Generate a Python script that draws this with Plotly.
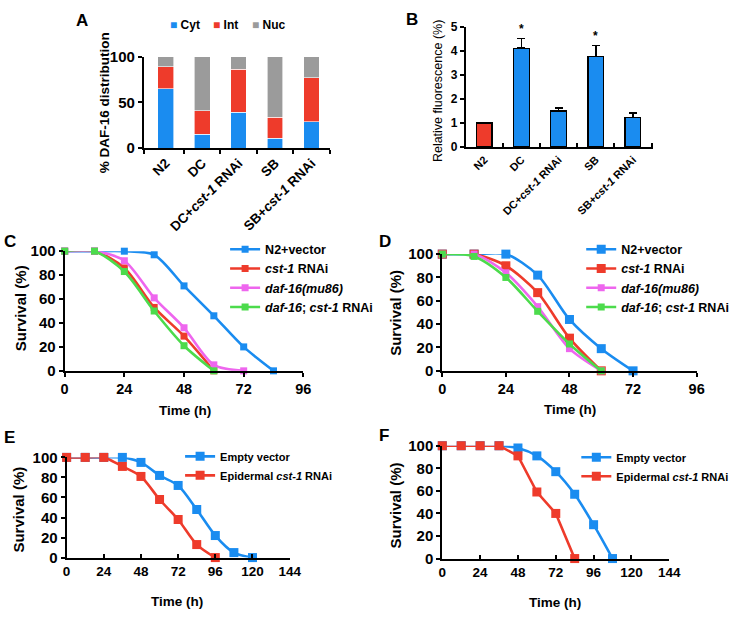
import plotly.graph_objects as go

# ---------------- DATA ----------------
# Panel A: DAF-16 distribution (%)
a_groups = ["N2", "DC", "DC+<i>cst-1</i> RNAi", "SB", "SB+<i>cst-1</i> RNAi"]
a_cyt = [65, 15, 39, 11, 29]
a_int = [24, 26, 47, 23, 48]
a_nuc = [11, 59, 14, 66, 23]
a_star = ["", "", "*", "", "*"]

# Panel B: relative fluorescence
b_groups = ["N2", "DC", "DC+<i>cst-1</i> RNAi", "SB", "SB+<i>cst-1</i> RNAi"]
b_vals = [1.0, 4.1, 1.5, 3.75, 1.22]
b_err = [0.0, 0.4, 0.12, 0.47, 0.2]
b_star = ["", "*", "", "*", ""]

# Panel C survival
c_t_n2 = [0, 12, 24, 36, 48, 60, 72, 84]
c_n2 = [100, 100, 100, 97, 71, 46, 20, 0]
c_t_cst = [0, 12, 24, 36, 48, 60]
c_cst = [100, 100, 86, 53, 29, 0]
c_t_daf = [0, 12, 24, 36, 48, 60, 72]
c_daf = [100, 100, 92, 61, 36, 5, 0]
c_t_dc = [0, 12, 24, 36, 48, 60]
c_dc = [100, 100, 83, 50, 21, 0]

# Panel D survival
d_t_n2 = [0, 12, 24, 36, 48, 60, 72]
d_n2 = [100, 100, 100, 82, 44, 19, 0]
d_t_cst = [0, 12, 24, 36, 48, 60]
d_cst = [100, 100, 90, 67, 28, 0]
d_t_daf = [0, 12, 24, 36, 48, 60]
d_daf = [100, 100, 84, 55, 19, 0]
d_t_dc = [0, 12, 24, 36, 48, 60]
d_dc = [100, 98, 80, 51, 23, 0]

# Panel E survival
e_t_ev = [0, 12, 24, 36, 48, 60, 72, 84, 96, 108, 120]
e_ev = [100, 100, 100, 100, 95, 82, 72, 48, 22, 5, 0]
e_t_ep = [0, 12, 24, 36, 48, 60, 72, 84, 96]
e_ep = [100, 100, 100, 91, 81, 58, 38, 13, 0]

# Panel F survival
f_t_ev = [0, 12, 24, 36, 48, 60, 72, 84, 96, 108]
f_ev = [100, 100, 100, 100, 98, 91, 77, 57, 30, 0]
f_t_ep = [0, 12, 24, 36, 48, 60, 72, 84]
f_ep = [100, 100, 100, 100, 91, 59, 40, 0]

# ---------------- STYLE ----------------
W, H = 738, 622
FONT = "Liberation Sans, Arial, Helvetica, sans-serif"
BLUE = "#1A8CF0"
RED = "#EE3B2B"
GREY = "#9B9B9B"
MAG = "#EE66EE"
GREEN = "#4CDB4C"


def px_x(x0, x1):
    return [x0 / W, x1 / W]


def px_y(top, bottom):
    return [1 - bottom / H, 1 - top / H]


fig = go.Figure()

# ---------- Panel A ----------
xa = list(range(len(a_groups)))
for name, vals, col in [("Cyt", a_cyt, BLUE), ("Int", a_int, RED), ("Nuc", a_nuc, GREY)]:
    fig.add_trace(go.Bar(x=xa, y=vals, name=name, marker=dict(color=col, line=dict(color="white", width=0.6)),
                         width=0.43, xaxis="x", yaxis="y", showlegend=False))

# ---------- Panel B ----------
xb = list(range(len(b_groups)))
fig.add_trace(go.Bar(x=xb, y=b_vals, marker=dict(color=[RED] + [BLUE] * 4, line=dict(color="black", width=1.3)),
                     width=0.42, xaxis="x2", yaxis="y2", showlegend=False,
                     error_y=dict(type="data", symmetric=False, array=b_err, arrayminus=[0] * 5,
                                  color="black", thickness=1.5, width=4)))


def line_trace(t, v, name, col, xax, yax, leg, msize=8, shape="spline"):
    return go.Scatter(x=t, y=v, name=name, mode="lines+markers", xaxis=xax, yaxis=yax, legend=leg,
                      line=dict(color=col, width=2.6, shape=shape, smoothing=0.8),
                      marker=dict(symbol="square", size=msize, color=col), cliponaxis=False)


# ---------- Panel C ----------
fig.add_trace(line_trace(c_t_n2, c_n2, "N2+vector", BLUE, "x3", "y3", "legend", 7))
fig.add_trace(line_trace(c_t_cst, c_cst, "<i>cst-1</i> RNAi", RED, "x3", "y3", "legend", 7))
fig.add_trace(line_trace(c_t_daf, c_daf, "<i>daf-16(mu86)</i>", MAG, "x3", "y3", "legend", 7))
fig.add_trace(line_trace(c_t_dc, c_dc, "<i>daf-16</i>; <i>cst-1</i> RNAi", GREEN, "x3", "y3", "legend", 7))

# ---------- Panel D ----------
fig.add_trace(line_trace(d_t_n2, d_n2, "N2+vector", BLUE, "x4", "y4", "legend2", 9))
fig.add_trace(line_trace(d_t_cst, d_cst, "<i>cst-1</i> RNAi", RED, "x4", "y4", "legend2", 9))
fig.add_trace(line_trace(d_t_daf, d_daf, "<i>daf-16(mu86)</i>", MAG, "x4", "y4", "legend2", 7))
fig.add_trace(line_trace(d_t_dc, d_dc, "<i>daf-16</i>; <i>cst-1</i> RNAi", GREEN, "x4", "y4", "legend2", 7))

# ---------- Panel E ----------
fig.add_trace(line_trace(e_t_ev, e_ev, "Empty vector", BLUE, "x5", "y5", "legend3", 9))
fig.add_trace(line_trace(e_t_ep, e_ep, "Epidermal <i>cst-1</i> RNAi", RED, "x5", "y5", "legend3", 9))

# ---------- Panel F ----------
fig.add_trace(line_trace(f_t_ev, f_ev, "Empty vector", BLUE, "x6", "y6", "legend4", 9, "spline"))
fig.add_trace(line_trace(f_t_ep, f_ep, "Epidermal <i>cst-1</i> RNAi", RED, "x6", "y6", "legend4", 9, "linear"))

# ---------------- AXES ----------------
base_ax = dict(showline=True, linecolor="black", linewidth=2, showgrid=False, zeroline=False,
               ticks="outside", tickcolor="black", tickwidth=2, ticklen=4, fixedrange=True)


def tf(size):
    return dict(family=FONT, size=size, color="black", weight="bold")


layout_axes = {}
# A
layout_axes["xaxis"] = dict(base_ax, domain=px_x(143, 333), anchor="y", range=[-0.6, 4.5],
                            tickmode="array", tickvals=xa, ticktext=a_groups, ticks="", tickangle=-45,
                            tickfont=tf(13.5),
                            minor=dict(tickmode="array", tickvals=[-0.6, 0.5, 1.5, 2.5, 3.5, 4.5],
                                       ticks="outside", ticklen=4, tickwidth=2, tickcolor="black"))
layout_axes["yaxis"] = dict(base_ax, domain=px_y(49, 143), anchor="x", range=[0, 100],
                            tickvals=[0, 50, 100], tickfont=tf(15))
# B
layout_axes["xaxis2"] = dict(base_ax, domain=px_x(472, 663), anchor="y2", range=[-0.5, 4.53],
                             tickmode="array", tickvals=xb, ticktext=b_groups, ticks="", tickangle=-45,
                             tickfont=tf(11),
                             minor=dict(tickmode="array", tickvals=[0.5, 1.5, 2.5, 3.5, 4.5],
                                        ticks="inside", ticklen=4, tickwidth=2, tickcolor="black"))
layout_axes["yaxis2"] = dict(base_ax, domain=px_y(18, 142), anchor="x2", range=[0, 5],
                             tickvals=[0, 1, 2, 3, 4, 5], tickfont=tf(12))
# C
layout_axes["xaxis3"] = dict(base_ax, domain=px_x(62, 306), anchor="y3", range=[0, 96],
                             tickvals=[0, 24, 48, 72, 96], tickfont=tf(14.5))
layout_axes["yaxis3"] = dict(base_ax, domain=px_y(249, 372), anchor="x3", range=[0, 100],
                             tickvals=[0, 20, 40, 60, 80, 100], tickfont=tf(15))
# D
layout_axes["xaxis4"] = dict(base_ax, domain=px_x(448, 708), anchor="y4", range=[0, 96],
                             tickvals=[0, 24, 48, 72, 96], tickfont=tf(14.5))
layout_axes["yaxis4"] = dict(base_ax, domain=px_y(252, 372), anchor="x4", range=[0, 100],
                             tickvals=[0, 20, 40, 60, 80, 100], tickfont=tf(15))
# E
layout_axes["xaxis5"] = dict(base_ax, domain=px_x(64, 292), anchor="y5", range=[0, 144], ticks="inside",
                             tickvals=[0, 24, 48, 72, 96, 120, 144], tickfont=tf(13.5))
layout_axes["yaxis5"] = dict(base_ax, domain=px_y(461, 564), anchor="x5", range=[0, 100],
                             tickvals=[0, 20, 40, 60, 80, 100], tickfont=tf(15))
# F
layout_axes["xaxis6"] = dict(base_ax, domain=px_x(448, 680), anchor="y6", range=[0, 144], ticks="inside",
                             tickvals=[0, 24, 48, 72, 96, 120, 144], tickfont=tf(13.5))
layout_axes["yaxis6"] = dict(base_ax, domain=px_y(449, 565), anchor="x6", range=[0, 100],
                             tickvals=[0, 20, 40, 60, 80, 100], tickfont=tf(15))

# ---------------- ANNOTATIONS ----------------
ann = []


def pa(x, y, text, size, bold=True, angle=0, xanchor="center", yanchor="middle", color="black"):
    ann.append(dict(x=x / W, y=1 - y / H, xref="paper", yref="paper", text=text, showarrow=False,
                    textangle=angle, xanchor=xanchor, yanchor=yanchor,
                    font=dict(family=FONT, size=size, color=color, weight="bold" if bold else "normal")))


# panel letters
pa(80, 12, "A", 17)
pa(417, 11, "B", 17)
pa(6, 239, "C", 17)
pa(389, 239, "D", 17)
pa(6, 441, "E", 17)
pa(388, 438, "F", 17)

# axis titles
pa(103, 96, "% DAF-16 distribution", 13.5, angle=-90)
pa(443, 84, "Relative fluorescence (%)", 12.5, bold=False, angle=-90)
pa(17, 308, "Survival (%)", 15, angle=-90)
pa(185, 413, "Time (h)", 13.5)
pa(400, 312, "Survival (%)", 15, angle=-90)
pa(579, 412, "Time (h)", 13.5)
pa(15, 515, "Survival (%)", 15, angle=-90)
pa(177, 609, "Time (h)", 13.5)
pa(400, 510, "Survival (%)", 15, angle=-90)
pa(563, 610, "Time (h)", 13.5)

# A legend (square swatches)
for xs, name, col in [(168, "Cyt", BLUE), (212, "Int", RED), (251, "Nuc", GREY)]:
    ann.append(dict(x=xs / W, y=1 - 16 / H, xref="paper", yref="paper", showarrow=False,
                    xanchor="left", yanchor="middle",
                    text=f"<span style='color:{col}'>■</span> {name}",
                    font=dict(family=FONT, size=12, color="black", weight="bold")))

# asterisks
for i, s in enumerate(a_star):
    if s:
        ann.append(dict(x=xa[i], y=118, xref="x", yref="y", text=s, showarrow=False,
                        font=dict(family=FONT, size=13, color="black", weight="bold")))
for i, s in enumerate(b_star):
    if s:
        ann.append(dict(x=xb[i], y=b_vals[i] + b_err[i] + 0.38, xref="x2", yref="y2", text=s, showarrow=False,
                        font=dict(family=FONT, size=12, color="black", weight="bold")))


def legend_cfg(xpx, ytop, size):
    return dict(x=xpx / W, y=1 - ytop / H, xanchor="left", yanchor="top", bgcolor="rgba(0,0,0,0)",
                font=dict(family=FONT, size=size, color="black", weight="bold"), itemwidth=30,
                tracegroupgap=0, traceorder="normal")


fig.update_layout(
    width=W, height=H, margin=dict(l=0, r=0, t=0, b=0),
    paper_bgcolor="white", plot_bgcolor="white",
    barmode="stack", bargap=0.5,
    showlegend=True,
    legend=legend_cfg(226, 232, 12.5),
    legend2=legend_cfg(590, 232, 12.5),
    legend3=legend_cfg(180, 445, 11),
    legend4=legend_cfg(585, 446, 11),
    annotations=ann,
    **layout_axes,
)

fig.write_html("out.html")
